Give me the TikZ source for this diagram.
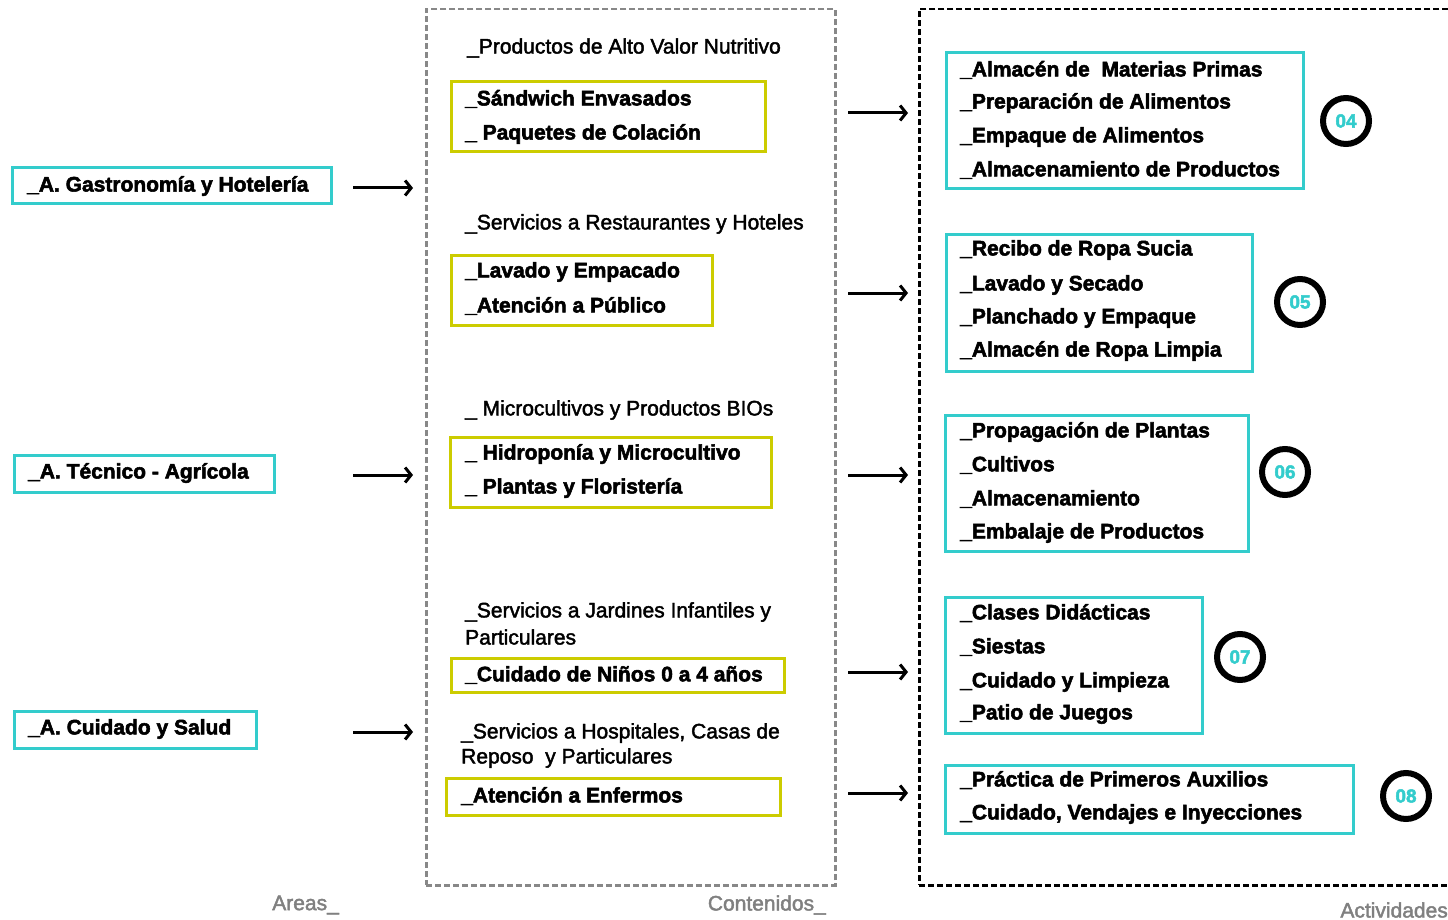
\documentclass[tikz,border=0pt]{standalone}
\usepackage{fontspec}
\setmainfont{Liberation Sans}
\newfontfamily\hvb[FakeBold=2.5]{Liberation Sans Bold}
\newfontfamily\hvr[FakeBold=2]{Liberation Sans}
\usetikzlibrary{arrows.meta}
\definecolor{cy}{HTML}{33CCCC}
\definecolor{yl}{HTML}{CCCC00}
\definecolor{gr}{HTML}{888888}
\definecolor{lab}{HTML}{808080}
\begin{document}
\begin{tikzpicture}[x=1pt,y=-1pt,
  cybox/.style={draw=cy,line width=3pt,anchor=north west,inner sep=0pt,outer sep=0pt},
  ylbox/.style={draw=yl,line width=3pt,anchor=north west,inner sep=0pt,outer sep=0pt},
  bt/.style={anchor=west,inner sep=0pt,font=\fontsize{21}{24}\hvb},
  ht/.style={anchor=west,inner sep=0pt,font=\fontsize{21}{24}\hvr},
  lb/.style={inner sep=0pt,text=lab,font=\fontsize{21}{24}\hvr},
  num/.style={circle,draw=black,line width=6pt,minimum size=46pt,inner sep=0pt,text=cy,font=\fontsize{19}{20}\hvb},
  arr/.style={line width=3pt,-{Straight Barb[length=6pt,width=15pt]}}]
\useasboundingbox (0,0) rectangle (1448,920);
% frames
\node (midframe) [draw=gr,line width=2.5pt,dash pattern=on 6pt off 3pt,anchor=north west,inner sep=0pt,minimum width=409pt,minimum height=876pt] at (425,8) {};
\node (rightframe) [draw=black,line width=2.5pt,dash pattern=on 6pt off 3pt,anchor=north west,inner sep=0pt,minimum width=560pt,minimum height=876pt] at (918,8) {};
% areas
\node (a1) [cybox,minimum width=319pt,minimum height=36pt] at (12,168) {};
\node (a1t) [bt] at (27,186) {\_A. Gastronomía y Hotelería};
\node (a2) [cybox,minimum width=260pt,minimum height=37pt] at (14,455) {};
\node (a2t) [bt] at (28,473) {\_A. Técnico - Agrícola};
\node (a3) [cybox,minimum width=242pt,minimum height=37pt] at (14,711) {};
\node (a3t) [bt] at (28,729) {\_A. Cuidado y Salud};
% area arrows
\coordinate (s1) at (353,188); \coordinate (e1) at (413,188);
\coordinate (s2) at (353,475); \coordinate (e2) at (413,475);
\coordinate (s3) at (353,732); \coordinate (e3) at (413,732);
\draw[arr] (s1) -- (e1);
\draw[arr] (s2) -- (e2);
\draw[arr] (s3) -- (e3);
% contents
\node (h1) [ht] at (467,48) {\_Productos de Alto Valor Nutritivo};
\node (y1) [ylbox,minimum width=314pt,minimum height=70pt] at (451,82) {};
\node (y1a) [bt] at (465,99) {\_Sándwich Envasados};
\node (y1b) [bt] at (465,134) {\_ Paquetes de Colación};
\node (h2) [ht] at (465,224) {\_Servicios a Restaurantes y Hoteles};
\node (y2) [ylbox,minimum width=261pt,minimum height=70pt] at (451,255) {};
\node (y2a) [bt] at (465,272) {\_Lavado y Empacado};
\node (y2b) [bt] at (465,306) {\_Atención a Público};
\node (h3) [ht] at (465,410) {\_ Microcultivos y Productos BIOs};
\node (y3) [ylbox,minimum width=321pt,minimum height=70pt] at (450,437) {};
\node (y3a) [bt] at (465,454) {\_ Hidroponía y Microcultivo};
\node (y3b) [bt] at (465,488) {\_ Plantas y Floristería};
\node (h4a) [ht] at (465,612) {\_Servicios a Jardines Infantiles y};
\node (h4b) [ht] at (465,637) {Particulares};
\node (y4) [ylbox,minimum width=333pt,minimum height=34pt] at (451,658) {};
\node (y4a) [bt] at (465,675) {\_Cuidado de Niños 0 a 4 años};
\node (h5a) [ht] at (461,733) {\_Servicios a Hospitales, Casas de};
\node (h5b) [ht] at (461,758) {Reposo\ \ y Particulares};
\node (y5) [ylbox,minimum width=334pt,minimum height=37pt] at (446,778) {};
\node (y5a) [bt] at (461,796) {\_Atención a Enfermos};
% content arrows
\coordinate (m1) at (848,113); \coordinate (n1) at (908,113);
\coordinate (m2) at (848,293); \coordinate (n2) at (908,293);
\coordinate (m3) at (848,475); \coordinate (n3) at (908,475);
\coordinate (m4) at (848,672); \coordinate (n4) at (908,672);
\coordinate (m5) at (848,793); \coordinate (n5) at (908,793);
\draw[arr] (m1) -- (n1);
\draw[arr] (m2) -- (n2);
\draw[arr] (m3) -- (n3);
\draw[arr] (m4) -- (n4);
\draw[arr] (m5) -- (n5);
% activities
\node (b1) [cybox,minimum width=357pt,minimum height=136pt] at (946,53) {};
\node (b1a) [bt] at (960,70) {\_Almacén de\ \ Materias Primas};
\node (b1b) [bt] at (960,103) {\_Preparación de Alimentos};
\node (b1c) [bt] at (960,137) {\_Empaque de Alimentos};
\node (b1d) [bt] at (960,170) {\_Almacenamiento de Productos};
\node (c1) [num] at (1346,121) {04};
\node (b2) [cybox,minimum width=306pt,minimum height=137pt] at (946,234) {};
\node (b2a) [bt] at (960,250) {\_Recibo de Ropa Sucia};
\node (b2b) [bt] at (960,285) {\_Lavado y Secado};
\node (b2c) [bt] at (960,318) {\_Planchado y Empaque};
\node (b2d) [bt] at (960,351) {\_Almacén de Ropa Limpia};
\node (c2) [num] at (1300,302) {05};
\node (b3) [cybox,minimum width=303pt,minimum height=136pt] at (945,415) {};
\node (b3a) [bt] at (960,432) {\_Propagación de Plantas};
\node (b3b) [bt] at (960,465) {\_Cultivos};
\node (b3c) [bt] at (960,499) {\_Almacenamiento};
\node (b3d) [bt] at (960,533) {\_Embalaje de Productos};
\node (c3) [num] at (1285,472) {06};
\node (b4) [cybox,minimum width=257pt,minimum height=136pt] at (945,597) {};
\node (b4a) [bt] at (960,613) {\_Clases Didácticas};
\node (b4b) [bt] at (960,647) {\_Siestas};
\node (b4c) [bt] at (960,682) {\_Cuidado y Limpieza};
\node (b4d) [bt] at (960,714) {\_Patio de Juegos};
\node (c4) [num] at (1240,657) {07};
\node (b5) [cybox,minimum width=408pt,minimum height=68pt] at (945,765) {};
\node (b5a) [bt] at (960,780) {\_Práctica de Primeros Auxilios};
\node (b5b) [bt] at (960,814) {\_Cuidado, Vendajes e Inyecciones};
\node (c5) [num] at (1406,796) {08};
% column labels
\node (l1) [lb,anchor=east] at (339,905) {Areas\_};
\node (l2) [lb,anchor=east] at (826,905) {Contenidos\_};
\node (l3) [lb,anchor=east] at (1448,910) {Actividades};
\end{tikzpicture}
\end{document}
